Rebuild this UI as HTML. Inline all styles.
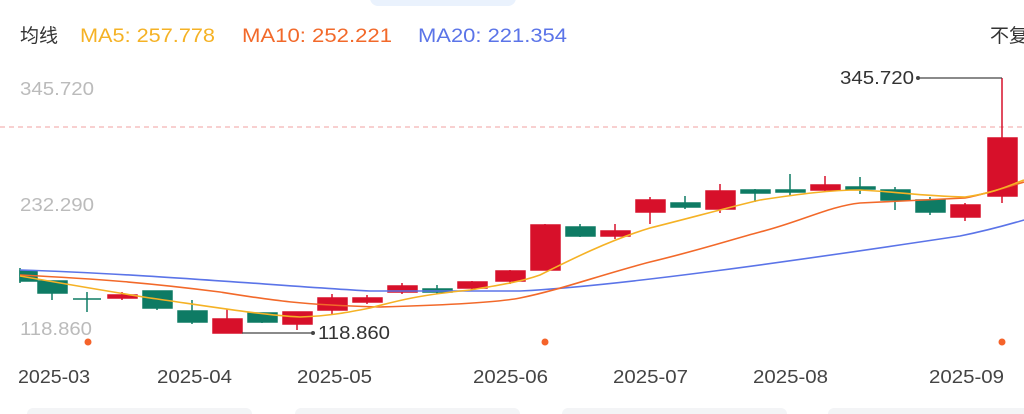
<!DOCTYPE html><html><head><meta charset="utf-8"><style>
body{margin:0;background:#fff;width:1024px;height:414px;overflow:hidden;font-family:"Liberation Sans","Noto Sans CJK SC",sans-serif}
</style></head><body>
<svg width="1024" height="414" xmlns="http://www.w3.org/2000/svg" style="position:absolute;left:0;top:0;font-family:'Liberation Sans','Noto Sans CJK SC',sans-serif">
<rect x="370" y="-10" width="146" height="16" rx="8" fill="#eaf2fd"/>
<text x="20" y="42" font-size="19" fill="#333">均线</text>
<text x="80" y="42" font-size="19" fill="#f5b225" textLength="135" lengthAdjust="spacingAndGlyphs">MA5: 257.778</text>
<text x="242" y="42" font-size="19" fill="#f2692a" textLength="150" lengthAdjust="spacingAndGlyphs">MA10: 252.221</text>
<text x="418" y="42" font-size="19" fill="#5b74e8" textLength="149" lengthAdjust="spacingAndGlyphs">MA20: 221.354</text>
<text x="990" y="42" font-size="19" fill="#333">不复</text>
<text x="20" y="95" font-size="18" fill="#bbb" textLength="74" lengthAdjust="spacingAndGlyphs">345.720</text>
<text x="20" y="211" font-size="18" fill="#bbb" textLength="74" lengthAdjust="spacingAndGlyphs">232.290</text>
<text x="20" y="335" font-size="18" fill="#bbb" textLength="72" lengthAdjust="spacingAndGlyphs">118.860</text>
<line x1="0" y1="127" x2="1024" y2="127" stroke="#f0a0a0" stroke-dasharray="5,4" stroke-width="1"/>
<g stroke-width="1.5">
<g fill="#0e7b64" stroke="#0e7b64">
<line x1="20" y1="268" x2="20" y2="283"/><rect x="20" y="271" width="17" height="10"/>
<line x1="52" y1="281" x2="52" y2="300"/><rect x="38" y="281" width="29" height="12"/>
<line x1="87" y1="292" x2="87" y2="312"/><line x1="73" y1="299" x2="101" y2="299"/>
<line x1="157" y1="291" x2="157" y2="310"/><rect x="143" y="291" width="29" height="17"/>
<line x1="192" y1="300" x2="192" y2="324"/><rect x="178" y="311" width="29" height="11"/>
<line x1="262" y1="313" x2="262" y2="323"/><rect x="248" y="313" width="29" height="9"/>
<line x1="437" y1="285" x2="437" y2="294"/><rect x="423" y="289" width="29" height="3"/>
<line x1="580" y1="224" x2="580" y2="237"/><rect x="566" y="227" width="29" height="9"/>
<line x1="685" y1="196" x2="685" y2="209"/><rect x="671" y="203" width="29" height="4"/>
<line x1="755" y1="189" x2="755" y2="202"/><rect x="741" y="190" width="29" height="3"/>
<line x1="790" y1="174" x2="790" y2="195"/><rect x="776" y="190" width="29" height="2"/>
<line x1="860" y1="177" x2="860" y2="194"/><rect x="846" y="187" width="29" height="2"/>
<line x1="895" y1="187" x2="895" y2="210"/><rect x="881" y="190" width="29" height="10"/>
<line x1="930" y1="197" x2="930" y2="215"/><rect x="916" y="200" width="29" height="12"/>
</g>
<g fill="#d7102a" stroke="#d7102a">
<line x1="122" y1="292" x2="122" y2="300"/><rect x="108" y="295" width="29" height="3"/>
<line x1="227" y1="309" x2="227" y2="333"/><rect x="213" y="319" width="29" height="14"/>
<line x1="297" y1="312" x2="297" y2="330"/><rect x="283" y="312" width="29" height="12"/>
<line x1="332" y1="294" x2="332" y2="314"/><rect x="318" y="298" width="29" height="12"/>
<line x1="367" y1="295" x2="367" y2="304"/><rect x="353" y="298" width="29" height="4"/>
<line x1="402" y1="283" x2="402" y2="294"/><rect x="388" y="286" width="29" height="6"/>
<line x1="472" y1="281" x2="472" y2="290"/><rect x="458" y="282" width="29" height="6"/>
<line x1="510" y1="270" x2="510" y2="284"/><rect x="496" y="271" width="29" height="10"/>
<line x1="545" y1="224" x2="545" y2="270"/><rect x="531" y="225" width="29" height="45"/>
<line x1="615" y1="224" x2="615" y2="239"/><rect x="601" y="231" width="29" height="5"/>
<line x1="650" y1="197" x2="650" y2="224"/><rect x="636" y="200" width="29" height="12"/>
<line x1="720" y1="184" x2="720" y2="213"/><rect x="706" y="191" width="29" height="18"/>
<line x1="825" y1="176" x2="825" y2="191"/><rect x="811" y="185" width="29" height="5"/>
<line x1="965" y1="203" x2="965" y2="221"/><rect x="951" y="205" width="29" height="12"/>
<line x1="1002" y1="78" x2="1002" y2="203"/><rect x="988" y="138" width="29" height="58"/>
</g>
</g>
<g fill="none" stroke-width="1.6">
<path d="M20,270 C150,274 280,286 370,291 L520,291 C620,286 800,260 960,236 C990,230 1010,224 1024,220" stroke="#5b74e8"/>
<path d="M20,275 C100,279 150,283 220,292 C270,300 300,305 380,307 C450,305 500,302 520,298 C560,290 600,275 650,262 C700,250 730,240 760,232 C800,222 830,206 860,203 L965,198 C990,193 1010,186 1024,182" stroke="#f2692a"/>
<path d="M20,276 C60,283 100,290 150,298 C200,305 260,315 300,317 C330,316 350,312 370,308 C400,300 420,295 470,290 C500,285 520,282 540,275 C570,260 610,240 650,228 C690,218 730,207 760,200 C800,194 830,190 860,190 C900,192 920,196 965,197 C995,193 1010,185 1024,180" stroke="#f5b225"/>
</g>
<polyline points="918,78 1002,78" stroke="#444" stroke-width="1.2" fill="none"/><circle cx="918" cy="78" r="2" fill="#444"/>
<text x="840" y="84" font-size="18" fill="#333" textLength="74" lengthAdjust="spacingAndGlyphs">345.720</text>
<polyline points="242,333 313,333" stroke="#444" stroke-width="1.2" fill="none"/><circle cx="313" cy="333" r="2" fill="#444"/>
<text x="318" y="339" font-size="18" fill="#333" textLength="72" lengthAdjust="spacingAndGlyphs">118.860</text>
<circle cx="88" cy="342" r="3.5" fill="#f5632a"/><circle cx="545" cy="342" r="3.5" fill="#f5632a"/><circle cx="1002" cy="342" r="3.5" fill="#f5632a"/>
<g font-size="18" fill="#444">
<text x="18" y="383" textLength="72" lengthAdjust="spacingAndGlyphs">2025-03</text>
<text x="157" y="383" textLength="75" lengthAdjust="spacingAndGlyphs">2025-04</text>
<text x="297" y="383" textLength="75" lengthAdjust="spacingAndGlyphs">2025-05</text>
<text x="473" y="383" textLength="75" lengthAdjust="spacingAndGlyphs">2025-06</text>
<text x="613" y="383" textLength="75" lengthAdjust="spacingAndGlyphs">2025-07</text>
<text x="753" y="383" textLength="75" lengthAdjust="spacingAndGlyphs">2025-08</text>
<text x="929" y="383" textLength="75" lengthAdjust="spacingAndGlyphs">2025-09</text>
</g>
<g fill="#f3f4f6"><rect x="27" y="408" width="225" height="20" rx="6"/><rect x="295" y="408" width="225" height="20" rx="6"/><rect x="562" y="408" width="225" height="20" rx="6"/><rect x="828" y="408" width="225" height="20" rx="6"/></g>
</svg>
</body></html>
